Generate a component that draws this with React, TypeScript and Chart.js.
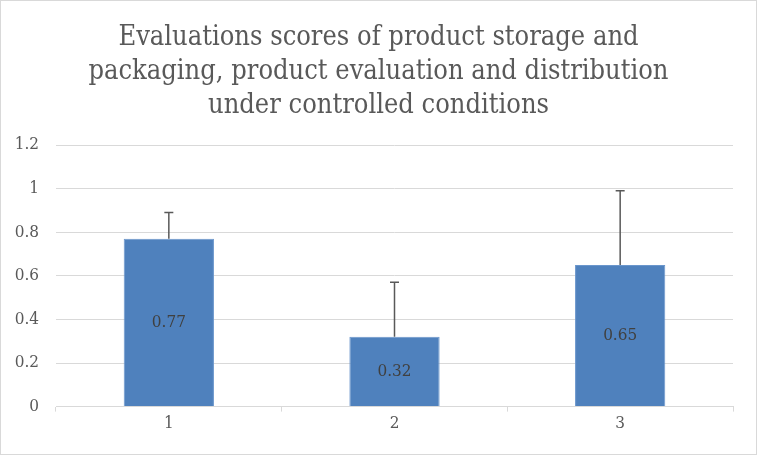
import React, { useEffect, useRef } from 'react';
import { Chart, registerables, Plugin } from 'chart.js';

Chart.register(...registerables);

// Data
const categories = ['1', '2', '3'];
const scores = [0.77, 0.32, 0.65];
const errorsUp = [0.12, 0.25, 0.34];
const titleLines = [
  'Evaluations scores of product storage and',
  'packaging, product evaluation and distribution',
  'under controlled conditions',
];

const FONT = "'DejaVu Serif Condensed', 'Liberation Serif', serif";

// Positive-only error bars drawn on top of each bar
const errorBarPlugin: Plugin<'bar'> = {
  id: 'errorBars',
  afterDatasetsDraw(chart) {
    const { ctx } = chart;
    const meta = chart.getDatasetMeta(0);
    const yScale = chart.scales.y;
    ctx.save();
    ctx.strokeStyle = '#595959';
    ctx.lineWidth = 1.5;
    meta.data.forEach((bar: any, i) => {
      const x = bar.x;
      const yTop = yScale.getPixelForValue(scores[i]);
      const yErr = yScale.getPixelForValue(scores[i] + errorsUp[i]);
      ctx.beginPath();
      ctx.moveTo(x, yTop);
      ctx.lineTo(x, yErr);
      ctx.moveTo(x - 4.5, yErr);
      ctx.lineTo(x + 4.5, yErr);
      ctx.stroke();
    });
    ctx.restore();
  },
};

// Value labels centred inside bars
const valueLabelPlugin: Plugin<'bar'> = {
  id: 'valueLabels',
  afterDatasetsDraw(chart) {
    const { ctx } = chart;
    const meta = chart.getDatasetMeta(0);
    ctx.save();
    ctx.fillStyle = '#404040';
    ctx.font = `17px ${FONT}`;
    ctx.textAlign = 'center';
    ctx.textBaseline = 'middle';
    meta.data.forEach((bar: any, i) => {
      const mid = (bar.y + bar.base) / 2;
      ctx.fillText(scores[i].toFixed(2), bar.x, mid);
    });
    ctx.restore();
  },
};

const ScoresChart: React.FC = () => {
  const canvasRef = useRef<HTMLCanvasElement>(null);
  const chartRef = useRef<Chart | null>(null);

  useEffect(() => {
    if (!canvasRef.current) return;
    const ctx = canvasRef.current.getContext('2d');
    if (!ctx) return;

    chartRef.current = new Chart(ctx, {
      type: 'bar',
      data: {
        labels: categories,
        datasets: [
          {
            label: 'Score',
            data: scores,
            backgroundColor: '#4F81BD',
            borderColor: '#6A96CC',
            borderWidth: 1,
            categoryPercentage: 1,
            barPercentage: 0.4,
          },
        ],
      },
      options: {
        responsive: true,
        maintainAspectRatio: false,
        animation: false,
        layout: {
          padding: { left: 0, right: 0, top: 0, bottom: 18 },
        },
        plugins: {
          legend: { display: false },
          tooltip: { enabled: false },
          title: {
            display: true,
            text: titleLines,
            color: '#595959',
            font: { family: FONT, size: 27, weight: 'normal', lineHeight: 1.26 },
            padding: { top: 20, bottom: 22 },
          },
        },
        scales: {
          x: {
            grid: {
              offset: true,
              drawOnChartArea: false,
              drawTicks: true,
              tickLength: 5,
              color: '#d9d9d9',
            },
            border: { color: '#d9d9d9', width: 1 },
            ticks: {
              color: '#595959',
              font: { family: FONT, size: 17 },
              padding: 2,
            },
          },
          y: {
            min: 0,
            max: 1.2,
            grid: {
              color: '#d9d9d9',
              drawTicks: false,
            },
            border: { display: false },
            ticks: {
              stepSize: 0.2,
              color: '#595959',
              font: { family: FONT, size: 17 },
              padding: 17,
              callback: (v) => String(Number(Number(v).toFixed(1))),
            },
            afterFit: (scale) => {
              scale.width = 55;
            },
          },
          // empty right-hand axis, only reserves the right margin
          yRight: {
            position: 'right',
            min: 0,
            max: 1.2,
            grid: { drawOnChartArea: false, drawTicks: false },
            border: { display: false },
            ticks: { display: false },
            afterFit: (scale) => {
              scale.width = 23;
            },
          },
        },
      },
      plugins: [errorBarPlugin, valueLabelPlugin],
    });

    return () => {
      if (chartRef.current) {
        chartRef.current.destroy();
        chartRef.current = null;
      }
    };
  }, []);

  return (
    <div
      style={{
        position: 'absolute',
        left: 0,
        top: 0,
        width: 757,
        height: 455,
        boxSizing: 'border-box',
        border: '1px solid #d9d9d9',
        background: '#fff',
      }}
    >
      <canvas ref={canvasRef}></canvas>
    </div>
  );
};

export default function App() {
  return <ScoresChart />;
}
